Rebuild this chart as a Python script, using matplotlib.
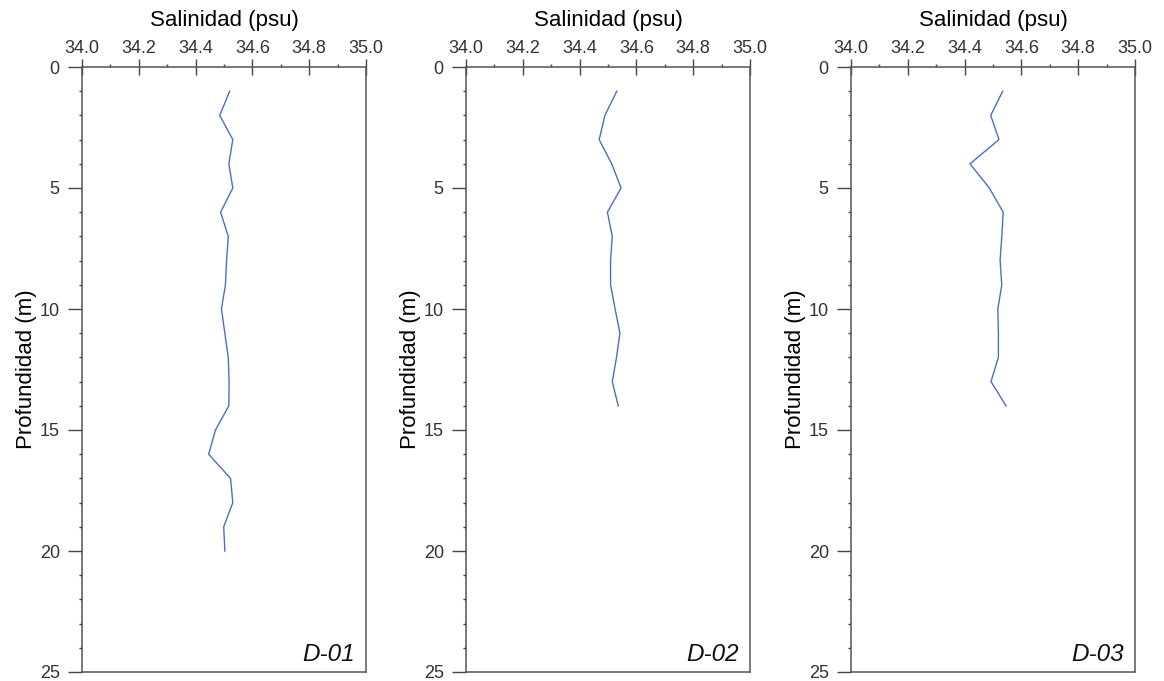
import matplotlib.pyplot as plt
from matplotlib.ticker import MultipleLocator

plt.rcParams['font.family'] = ['Liberation Sans', 'DejaVu Sans']

depth_01 = [1, 2, 3, 4, 5, 6, 7, 8, 9, 10, 11, 12, 13, 14, 15, 16, 17, 18, 19, 20]
sal_01 = [34.52, 34.485, 34.531, 34.517, 34.531, 34.488, 34.515, 34.509, 34.505, 34.491,
          34.503, 34.515, 34.518, 34.517, 34.47, 34.446, 34.523, 34.531, 34.499, 34.503]

depth_02 = [1, 2, 3, 4, 5, 6, 7, 8, 9, 10, 11, 12, 13, 14]
sal_02 = [34.531, 34.489, 34.469, 34.513, 34.546, 34.498, 34.515, 34.509, 34.509, 34.525,
          34.542, 34.53, 34.515, 34.536]

depth_03 = [1, 2, 3, 4, 5, 6, 7, 8, 9, 10, 11, 12, 13, 14]
sal_03 = [34.534, 34.492, 34.521, 34.419, 34.487, 34.536, 34.531, 34.525, 34.531, 34.517,
          34.519, 34.519, 34.493, 34.546]

stations = ['D-01', 'D-02', 'D-03']
depths = [depth_01, depth_02, depth_03]
salinities = [sal_01, sal_02, sal_03]

W, H = 1164, 681
lefts = [82, 466, 851]
width = 284
top, bottom = 67, 672

fig = plt.figure(figsize=(W / 100, H / 100), dpi=100)

for i, name in enumerate(stations):
    ax = fig.add_axes([lefts[i] / W, 1 - bottom / H, width / W, (bottom - top) / H])
    ax.plot(salinities[i], depths[i], color='#4a6fc9', lw=1)
    ax.set_xlim(34.0, 35.0)
    ax.set_ylim(25, 0)
    ax.xaxis.tick_top()
    ax.xaxis.set_label_position('top')
    ax.xaxis.set_major_locator(MultipleLocator(0.2))
    ax.xaxis.set_minor_locator(MultipleLocator(0.1))
    ax.xaxis.set_major_formatter(plt.FormatStrFormatter('%.1f'))
    ax.yaxis.set_major_locator(MultipleLocator(5))
    ax.yaxis.set_minor_locator(MultipleLocator(1))
    ax.tick_params(axis='x', which='major', direction='inout', length=12, width=1,
                   labelsize=13, labelcolor='#333333', color='#444444', pad=1)
    ax.tick_params(axis='x', which='minor', direction='out', length=2, width=1, color='#444444')
    ax.tick_params(axis='y', which='major', direction='out', length=10, width=1,
                   labelsize=13, labelcolor='#333333', color='#444444', pad=6)
    ax.tick_params(axis='y', which='minor', direction='out', length=2, width=1, color='#444444')
    for s in ax.spines.values():
        s.set_color('#555555')
        s.set_linewidth(1.1)
    ax.set_xlabel('Salinidad (psu)', fontsize=16, labelpad=10)
    ax.set_ylabel('Profundidad (m)', fontsize=16, labelpad=2)
    ax.text(0.96, 0.01, name, transform=ax.transAxes, ha='right', va='bottom',
            fontsize=17.5, style='italic', color='#111111')

fig.savefig('out.png', dpi=100)
